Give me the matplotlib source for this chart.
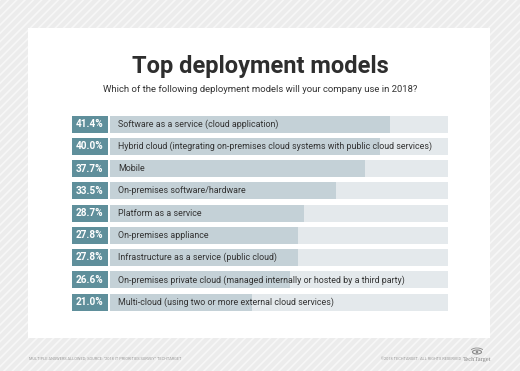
import matplotlib
matplotlib.use("Agg")
import matplotlib.pyplot as plt
from matplotlib.patches import Rectangle, Ellipse, Arc

categories = [
    "Software as a service (cloud application)",
    "Hybrid cloud (integrating on-premises cloud systems with public cloud services)",
    "Mobile",
    "On-premises software/hardware",
    "Platform as a service",
    "On-premises appliance",
    "Infrastructure as a service (public cloud)",
    "On-premises private cloud (managed internally or hosted by a third party)",
    "Multi-cloud (using two or more external cloud services)",
]
values = [41.4, 40.0, 37.7, 33.5, 28.7, 27.8, 27.8, 26.6, 21.0]
value_labels = ["41.4%", "40.0%", "37.7%", "33.5%", "28.7%", "27.8%", "27.8%", "26.6%", "21.0%"]
scale_max = 50

title = "Top deployment models"
subtitle = "Which of the following deployment models will your company use in 2018?"
footer_left = 'MULTIPLE ANSWERS ALLOWED; SOURCE: "2018 IT PRIORITIES SURVEY" TECHTARGET'
footer_right = "\u00a92018 TECHTARGET. ALL RIGHTS RESERVED"

W, H = 520, 371
plt.rcParams['hatch.linewidth'] = 1.2
plt.rcParams['hatch.color'] = '#f7f7f7'
NARROW = ['Liberation Sans Narrow', 'Roboto', 'DejaVu Sans']

fig = plt.figure(figsize=(W / 100, H / 100), dpi=100)
fig.patch.set_facecolor('#ececec')

# background hatch + white panel
bg = fig.add_axes([0, 0, 1, 1])
bg.set_xlim(0, W)
bg.set_ylim(H, 0)
bg.axis('off')
bg.add_patch(Rectangle((0, 0), W, H, facecolor='#ececec', edgecolor='#f7f7f7', hatch='////', lw=0))
bg.add_patch(Rectangle((28, 28), 462, 310, facecolor='white', edgecolor='none'))

bg.text(260, 66, title, ha='center', va='center', fontsize=17, fontweight='bold',
        color='#2e2e2e', family=NARROW)
bg.text(260, 89, subtitle, ha='center', va='center', fontsize=6.8, color='#333333', family=NARROW)
bg.text(29, 359, footer_left, ha='left', va='center', fontsize=2.8, color='#9a9a9a', family=NARROW)
bg.text(461, 359, footer_right, ha='right', va='center', fontsize=2.8, color='#9a9a9a', family=NARROW)
bg.text(477, 359, "TechTarget", ha='center', va='center', fontsize=4.6, color='#8a8a8a',
        family=['Liberation Serif', 'DejaVu Serif'])
bg.add_patch(Ellipse((477, 352), 9, 4, facecolor='none', edgecolor='#8a8a8a', lw=0.8))
bg.add_patch(Ellipse((477, 352), 2.5, 2.5, facecolor='#8a8a8a', edgecolor='none'))
bg.add_patch(Arc((477, 352), 14, 8, theta1=200, theta2=340, edgecolor='#8a8a8a', lw=0.6))

# layout of rows (pixels)
first_c, last_c = 124, 302
n = len(categories)
step = (last_c - first_c) / (n - 1)
top_px = first_c - step / 2
bot_px = last_c + step / 2
ay = 1 - bot_px / H
ah = (bot_px - top_px) / H
bar_h = 17 / step

ypos = list(range(n))

# value label boxes
lab = fig.add_axes([72 / W, ay, 35.5 / W, ah])
lab.set_xlim(0, 1)
lab.set_ylim(n - 0.5, -0.5)
lab.axis('off')
lab.barh(ypos, [1] * n, height=bar_h, left=0, color='#5f8f9b')
for y, t in zip(ypos, value_labels):
    lab.text(0.5, y, t, ha='center', va='center', color='white', fontsize=7.2,
             fontweight='bold', family=NARROW)

# bars
ax = fig.add_axes([110 / W, ay, 338 / W, ah])
ax.set_xlim(0, scale_max)
ax.set_ylim(n - 0.5, -0.5)
ax.axis('off')
ax.barh(ypos, [scale_max] * n, height=bar_h, color='#e4e9ec')
ax.barh(ypos, values, height=bar_h, color='#c4d1d7')
for y, c in zip(ypos, categories):
    ax.annotate(c, xy=(0, y), xytext=(6, 0), textcoords='offset points', ha='left', va='center',
                fontsize=6.4, color='#333333', family=NARROW)

fig.savefig('out.png', dpi=100, facecolor=fig.get_facecolor())
